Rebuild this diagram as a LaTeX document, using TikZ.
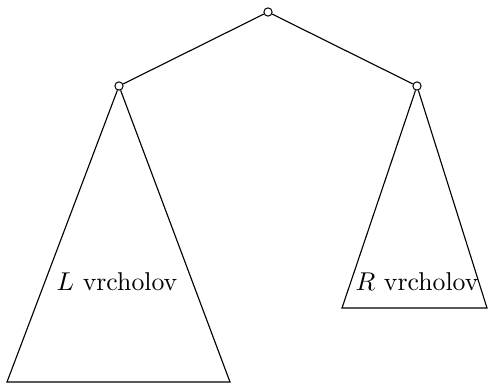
\documentclass[tikz,border=0pt]{standalone}
\begin{document}
\begin{tikzpicture}[x=0.4pt,y=-0.4pt,
  vert/.style={circle,draw,fill=white,inner sep=0pt,minimum size=3.3pt,line width=0.4pt},
  edge/.style={line width=0.45pt}]
\useasboundingbox (0,0) rectangle (488,383);
\node[vert] (t) at (268,12) {};
\node[vert] (l) at (119,86) {};
\node[vert] (r) at (417,86) {};
\coordinate (lbl) at (7,382);
\coordinate (lbr) at (230,382);
\coordinate (rbl) at (342,308);
\coordinate (rbr) at (487,308);
\draw[edge] (t) -- (l);
\draw[edge] (t) -- (r);
\draw[edge] (l) -- (lbl) -- (lbr) -- (l);
\draw[edge] (r) -- (rbl) -- (rbr) -- (r);
\node[scale=1.03] (ll) at (117,282) {$L$ vrcholov};
\node[scale=1.03] (rl) at (417,282) {$R$ vrcholov};
\end{tikzpicture}
\end{document}
